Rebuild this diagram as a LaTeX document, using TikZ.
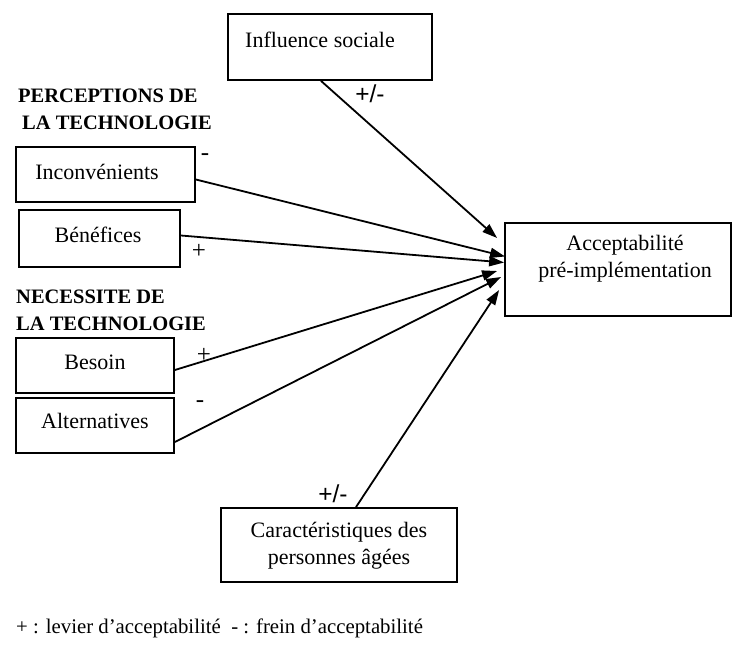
\documentclass[tikz,border=0pt]{standalone}
\usepackage{fontspec}
\setmainfont{Liberation Serif}
\newfontfamily\signfont{Liberation Sans}
\usetikzlibrary{arrows.meta}
\begin{document}
\begin{tikzpicture}[x=1pt,y=-1pt,
  box/.style={draw,line width=1.8pt,inner sep=0pt},
  txt/.style={font=\fontsize{22}{27}\selectfont,inner sep=0pt},
  head/.style={font=\fontsize{20.5}{24}\selectfont\bfseries,inner sep=0pt,anchor=west},
  sign/.style={font=\fontsize{25}{28}\selectfont,inner sep=0pt},
  pm/.style={font=\fontsize{24.5}{28}\selectfont\signfont,inner sep=0pt},
  arr/.style={line width=1.8pt,-{Triangle[length=15pt,width=10pt]}}]
\useasboundingbox (0,0) rectangle (733,650);
% boxes
\node[box,minimum width=204pt,minimum height=66pt] (inf) at (330,47) {};
\node[txt] (inft) at (320,40) {Influence sociale};
\node[box,minimum width=179pt,minimum height=55pt] (inc) at (105.5,174.5) {};
\node[txt] (inct) at (97,172) {Inconvénients};
\node[box,minimum width=161pt,minimum height=57pt] (ben) at (99.5,238.5) {};
\node[txt] (bent) at (98,235) {Bénéfices};
\node[box,minimum width=226pt,minimum height=93pt] (acc) at (618,269.5) {};
\node[txt,align=center] (acct) at (625,259) {Acceptabilité\\pré-implémentation};
\node[box,minimum width=158pt,minimum height=55pt] (bes) at (95,365.5) {};
\node[txt] (best) at (95,362) {Besoin};
\node[box,minimum width=158pt,minimum height=55pt] (alt) at (95,425.5) {};
\node[txt] (altt) at (95,421) {Alternatives};
\node[box,minimum width=236pt,minimum height=74pt] (car) at (339,545) {};
\node[txt,align=center] (cart) at (339,546) {Caractéristiques des\\personnes âgées};
% headings
\node[head] (h1) at (18,96) {PERCEPTIONS DE};
\node[head] (h2) at (22,123) {LA TECHNOLOGIE};
\node[head] (h3) at (16,297) {NECESSITE DE};
\node[head] (h4) at (16,324) {LA TECHNOLOGIE};
% arrows
\draw[arr] ([xshift=-9pt]inf.south) -- ([xshift=-7pt,yshift=31.5pt]acc.west);
\draw[arr] ([yshift=-5pt]inc.east) -- ([xshift=1pt,yshift=13pt]acc.west);
\draw[arr] ([yshift=3pt]ben.east) -- ([xshift=0pt,yshift=7pt]acc.west);
\draw[arr] ([yshift=-4.5pt]bes.east) -- ([xshift=-7pt,yshift=-1.5pt]acc.west);
\draw[arr] ([yshift=-16.5pt]alt.east) -- ([xshift=-3pt,yshift=-7.5pt]acc.west);
\draw[arr] ([xshift=17pt]car.north) -- ([xshift=-5pt,yshift=-20.5pt]acc.west);
% signs
\node[pm] (s1) at (370,94) {+/-};
\node[sign] (s2) at (205,157) {-};
\node[sign] (s3) at (199,251) {+};
\node[sign] (s4) at (204,355) {+};
\node[sign] (s5) at (200,404) {-};
\node[pm] (s6) at (333,494) {+/-};
% legend
\node[font=\fontsize{20.8}{25}\selectfont,inner sep=0pt,anchor=west] (leg) at (16,628) {+ : levier d’acceptabilité~~- : frein d’acceptabilité};
\end{tikzpicture}
\end{document}
